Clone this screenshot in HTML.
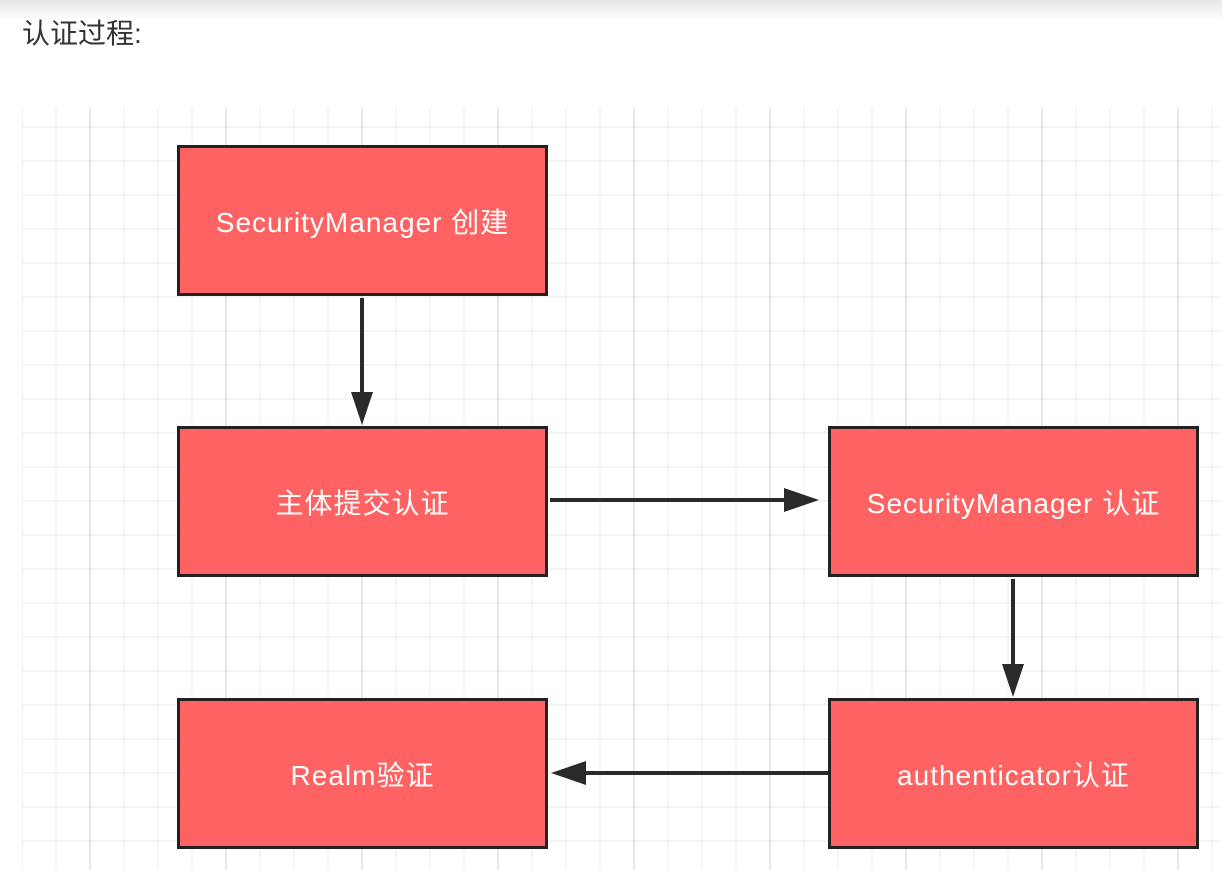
<!DOCTYPE html>
<html><head><meta charset="utf-8"><style>
html,body{margin:0;padding:0;width:1222px;height:870px;overflow:hidden;background:#fff;font-family:"Liberation Sans","Noto Sans CJK SC",sans-serif}
.title{position:absolute;left:22px;top:12px;font-size:28px;color:#333}
.top{position:absolute;left:0;top:0;width:1222px;height:20px;background:linear-gradient(#e6e6e6,#fff)}
.grid{position:absolute;left:22px;top:107px;width:1200px;height:763px;
background-image:
linear-gradient(90deg,rgba(0,0,0,0.06) 2px,transparent 2px),
linear-gradient(rgba(0,0,0,0.04) 2px,transparent 2px),
linear-gradient(90deg,rgba(0,0,0,0.04) 2px,transparent 2px);
background-size:136px 100%,100% 34px,34px 100%;
background-position:67px 0,0 19px,33px 0}
.box{position:absolute;width:365px;height:145px;background:#ff6262;border:3px solid #222;color:#fff;font-size:28px;letter-spacing:1px;display:flex;align-items:center;justify-content:center}
</style></head><body>
<div class="top"></div>
<div class="title">认证过程:</div>
<div class="grid"></div>
<div class="box" style="left:177px;top:145px">SecurityManager 创建</div>
<div class="box" style="left:177px;top:426px">主体提交认证</div>
<div class="box" style="left:828px;top:426px">SecurityManager 认证</div>
<div class="box" style="left:177px;top:698px">Realm验证</div>
<div class="box" style="left:828px;top:698px">authenticator认证</div>
<svg width="1222" height="870" style="position:absolute;left:0;top:0">
<g stroke="#2a2a2a" stroke-width="4" fill="#2a2a2a">
<line x1="362" y1="298" x2="362" y2="395"/>
<polygon points="351,392 373,392 362,425" stroke="none"/>
<line x1="550" y1="500" x2="790" y2="500"/>
<polygon points="784,488 784,512 819,500" stroke="none"/>
<line x1="1013" y1="579" x2="1013" y2="668"/>
<polygon points="1002,664 1024,664 1013,697" stroke="none"/>
<line x1="828" y1="773" x2="580" y2="773"/>
<polygon points="586,761 586,785 551,773" stroke="none"/>
</g></svg>
</body></html>
